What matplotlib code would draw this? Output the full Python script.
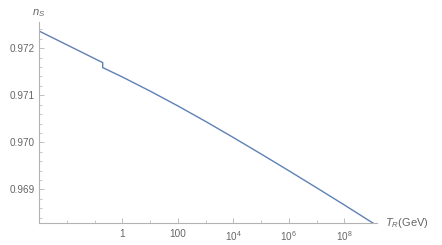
import matplotlib
matplotlib.use("Agg")
import matplotlib.pyplot as plt
from matplotlib.ticker import FixedLocator, NullFormatter

plt.rcParams['font.family'] = ['Liberation Sans', 'DejaVu Sans']
plt.rcParams['mathtext.fontset'] = 'custom'
plt.rcParams['mathtext.rm'] = 'Liberation Sans'
plt.rcParams['mathtext.it'] = 'Liberation Sans:italic'

# data (T_R in GeV, n_s)
T_R = [1e-3, 1e-2, 1e-1, 0.197, 0.197, 1, 10, 100, 1e3, 1e4, 1e5, 1e6, 1e7, 1e8, 1.1e9]
n_s = [0.972367, 0.972074, 0.971781, 0.971695, 0.971589, 0.971390, 0.971090, 0.970775,
       0.970445, 0.970103, 0.969753, 0.969397, 0.969035, 0.968669, 0.968280]

x_major = [1, 100, 1e4, 1e6, 1e8]
x_major_labels = ['1', '100', r'$10^4$', r'$10^6$', r'$10^8$']
x_minor = [1e-2, 1e-1, 10, 1e3, 1e5, 1e7]
y_major = [0.969, 0.970, 0.971, 0.972]
y_major_labels = ['0.969', '0.970', '0.971', '0.972']
y_minor = [0.9684, 0.9686, 0.9688, 0.9692, 0.9694, 0.9696, 0.9698,
           0.9702, 0.9704, 0.9706, 0.9708, 0.9712, 0.9714, 0.9716, 0.9718,
           0.9722, 0.9724]

axis_col = '#b3b3b3'
text_col = '#666666'

fig = plt.figure(figsize=(4.42, 2.45), dpi=100)
ax = fig.add_axes([0.0882, 0.0878, 0.853 - 0.0882, 0.9114 - 0.0878])
ax.plot(T_R, n_s, color='#5E81B5', lw=1.0, solid_joinstyle='miter')
ax.set_xscale('log')
ax.set_xlim(1e-3, 10 ** 9.178)
ax.set_ylim(0.968275, 0.972564)

for s in ['top', 'right']:
    ax.spines[s].set_visible(False)
for s in ['left', 'bottom']:
    ax.spines[s].set_color(axis_col)
    ax.spines[s].set_linewidth(0.8)

ax.xaxis.set_major_locator(FixedLocator(x_major))
ax.set_xticklabels(x_major_labels)
ax.xaxis.set_minor_locator(FixedLocator(x_minor))
ax.xaxis.set_minor_formatter(NullFormatter())
ax.yaxis.set_major_locator(FixedLocator(y_major))
ax.set_yticklabels(y_major_labels)
ax.yaxis.set_minor_locator(FixedLocator(y_minor))
ax.yaxis.set_minor_formatter(NullFormatter())

ax.tick_params(which='major', direction='in', length=3.5, width=0.6, color=axis_col,
               labelcolor=text_col, labelsize=7.2)
ax.tick_params(which='minor', direction='in', length=2, width=0.5, color=axis_col)
ax.tick_params(axis='x', which='major', pad=4)
ax.tick_params(axis='y', which='major', pad=3)

fig.text(385 / 442, 1 - 223.5 / 245, r'$T_R$(GeV)', color=text_col, fontsize=8,
         ha='left', va='center')
fig.text(39 / 442, 1 - 13 / 245, r'$n_S$', color=text_col, fontsize=8,
         ha='center', va='center')

fig.savefig('out.png', dpi=100)
